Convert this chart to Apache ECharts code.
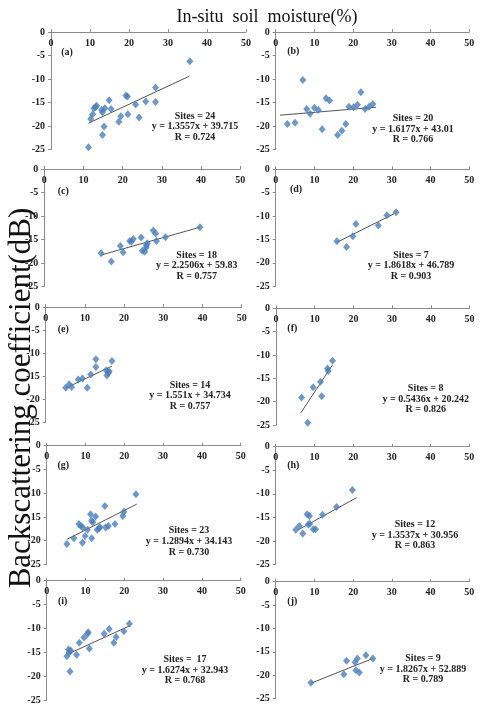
<!DOCTYPE html>
<html>
<head>
<meta charset="utf-8">
<script src="https://cdn.jsdelivr.net/npm/echarts@6/dist/echarts.min.js"></script>
<style>html,body{margin:0;padding:0;background:#fff}#c{width:480px;height:710px}</style>
</head>
<body>
<div id="c"></div>
<script>
// ---- data ----
const xTicks = [0, 10, 20, 30, 40, 50];
const yTicks = [0, -5, -10, -15, -20, -25];
const panelLabels = ['(a)','(b)','(c)','(d)','(e)','(f)','(g)','(h)','(i)','(j)'];
const sitesText = ['Sites = 24','Sites = 20','Sites = 18','Sites = 7','Sites = 14','Sites = 8','Sites = 23','Sites = 12','Sites =  17','Sites = 9'];
const eqText = ['y = 1.3557x + 39.715','y = 1.6177x + 43.01','y = 2.2506x + 59.83','y = 1.8618x + 46.789','y = 1.551x + 34.734','y = 0.5436x + 20.242','y = 1.2894x + 34.143','y = 1.3537x + 30.956','y = 1.6274x + 32.943','y = 1.8267x + 52.889'];
const rText = ['R = 0.724','R = 0.766','R = 0.757','R = 0.903','R = 0.757','R = 0.826','R = 0.730','R = 0.863','R = 0.768','R = 0.789'];

const ptsA = [[35.6,-6.2],[26.8,-11.8],[26.8,-14.9],[24.3,-14.8],[21.7,-15.4],[22.6,-18.2],[19.2,-13.5],[19.6,-13.7],[19.7,-17.5],[17.9,-17.9],[17.4,-19.1],[14.9,-14.5],[15.4,-16.4],[13.8,-16.2],[13.0,-16.6],[13.2,-17.1],[13.6,-20.1],[13.2,-21.9],[11.7,-15.7],[11.0,-16.2],[10.7,-17.5],[10.2,-18.5],[9.6,-24.5],[11.4,-16.0]];
const ptsB = [[7.0,-10.2],[3.0,-19.6],[5.0,-19.3],[8.0,-16.4],[8.9,-17.4],[10.0,-16.1],[11.0,-16.6],[12.0,-20.7],[13.0,-14.1],[13.9,-14.6],[16.0,-21.9],[17.1,-21.0],[18.1,-19.6],[18.9,-15.9],[20.1,-16.0],[21.1,-15.5],[22.0,-12.8],[23.1,-16.4],[24.1,-15.9],[25.1,-15.3]];
const ptsC = [[39.7,-12.4],[14.5,-17.9],[17.1,-19.7],[19.4,-16.4],[20.1,-17.7],[22.2,-15.5],[22.7,-14.9],[21.8,-15.3],[24.7,-14.6],[25.0,-17.4],[25.6,-17.6],[26.0,-16.7],[26.3,-15.8],[26.0,-16.2],[27.8,-13.1],[28.4,-13.7],[28.6,-15.3],[30.9,-14.5]];
const ptsD = [[15.8,-15.4],[18.3,-16.6],[19.9,-14.3],[20.7,-11.7],[26.5,-12.0],[28.7,-9.8],[31.1,-9.2]];
const ptsE = [[5.1,-17.5],[6.0,-16.7],[6.6,-17.3],[8.3,-15.7],[9.4,-15.5],[10.6,-17.5],[11.5,-14.6],[12.8,-11.3],[12.8,-13.0],[15.4,-13.7],[15.6,-14.8],[16.0,-14.3],[16.2,-13.9],[16.9,-11.7]];
const ptsF = [[6.6,-19.1],[9.6,-16.9],[11.5,-15.7],[11.8,-18.8],[13.3,-12.9],[13.5,-13.4],[14.6,-11.2],[8.2,-24.5]];
const ptsG = [[5.2,-20.7],[7.0,-19.5],[8.3,-16.5],[8.8,-16.9],[9.3,-17.2],[9.2,-20.4],[9.9,-19.0],[10.5,-17.7],[11.3,-14.4],[11.6,-15.8],[11.9,-16.1],[11.6,-19.5],[12.6,-14.9],[13.0,-17.7],[13.5,-17.4],[13.7,-17.1],[15.0,-12.7],[15.2,-17.2],[15.9,-16.9],[17.6,-16.5],[19.6,-14.8],[19.9,-13.9],[23.0,-10.2]];
const ptsH = [[5.2,-17.6],[6.1,-16.8],[7.0,-18.4],[8.1,-14.3],[8.7,-14.7],[8.4,-16.5],[8.8,-16.3],[9.7,-17.5],[10.3,-17.5],[12.1,-14.4],[15.7,-12.8],[19.8,-9.2]];
const ptsI = [[5.2,-15.8],[5.6,-14.4],[5.8,-15.0],[6.2,-14.6],[6.0,-19.0],[7.7,-15.5],[8.4,-13.0],[9.6,-11.9],[10.5,-11.1],[10.7,-10.8],[11.0,-14.2],[14.8,-11.1],[16.1,-10.1],[17.3,-13.0],[17.9,-11.8],[19.9,-10.6],[21.3,-9.0]];
const ptsJ = [[9.1,-21.6],[17.6,-19.8],[18.3,-16.9],[20.5,-17.2],[21.1,-16.4],[20.7,-18.9],[21.6,-19.4],[23.3,-15.7],[25.1,-16.4]];

const trendA = [[9.6,-19.4],[35.5,-9.4]];
const trendB = [[1.1,-17.7],[25.9,-16.0]];
const trendC = [[14.5,-18.3],[39.7,-12.4]];
const trendD = [[15.8,-15.6],[30.6,-9.5]];
const trendE = [[5.2,-17.5],[16.9,-12.8]];
const trendF = [[6.4,-22.4],[14.6,-12.1]];
const trendG = [[5.2,-19.7],[23.2,-12.3]];
const trendH = [[5.6,-17.7],[20.9,-10.8]];
const trendI = [[5.6,-15.3],[21.5,-9.4]];
const trendJ = [[9.1,-21.7],[25.1,-16.4]];

const allPts = [ptsA,ptsB,ptsC,ptsD,ptsE,ptsF,ptsG,ptsH,ptsI,ptsJ];
const allTrends = [trendA,trendB,trendC,trendD,trendE,trendF,trendG,trendH,trendI,trendJ];

// ---- layout ----
const grids = [
  {left:51, top:32, width:195, height:117.5},
  {left:275.7, top:32, width:193.6, height:117.5},
  {left:44.3, top:169, width:196, height:117.5},
  {left:275.7, top:169.3, width:193.6, height:117},
  {left:45.7, top:307, width:196, height:115.5},
  {left:276, top:308.3, width:193.5, height:116.8},
  {left:46.7, top:445.7, width:194, height:118.8},
  {left:275.7, top:446.7, width:193.6, height:118},
  {left:46.7, top:580.7, width:194, height:119.5},
  {left:275.7, top:581.7, width:193.6, height:117}
];
const annPos = [[195,116],[413,118.3],[196.7,255],[411,255],[190,385],[425.7,388.3],[189,530.7],[415,524.3],[185,659.3],[423,658.3]];
const lblPos = [[67,52],[293.3,51.7],[63.3,191.7],[296,189.3],[63.3,329.3],[292.3,328.3],[63.3,465.7],[293.3,465.7],[62.7,601.7],[292.3,601.7]];

const SERIF = '"Liberation Serif","Times New Roman",serif';
const axisGray = '#8c8c8c';
const txtColor = '#222';

const option = {
  animation: false,
  backgroundColor: '#fff',
  grid: grids.map(g => Object.assign({}, g)),
  xAxis: grids.map((g, i) => ({
    gridIndex: i, type: 'value', min: xTicks[0], max: xTicks[xTicks.length-1], interval: 10,
    position: 'top',
    axisLine: {onZero: false, lineStyle: {color: axisGray, width: 1}},
    axisTick: {show: true, length: 3, lineStyle: {color: axisGray}},
    splitLine: {show: false},
    axisLabel: {inside: true, margin: 6, fontFamily: SERIF, fontWeight: 'bold', fontSize: 10, color: txtColor}
  })),
  yAxis: grids.map((g, i) => ({
    gridIndex: i, type: 'value', min: yTicks[yTicks.length-1], max: yTicks[0], interval: 5,
    axisLine: {show: true, onZero: false, lineStyle: {color: axisGray, width: 1}},
    axisTick: {show: true, length: 3, lineStyle: {color: axisGray}},
    splitLine: {show: false},
    axisLabel: {margin: 6, fontFamily: SERIF, fontWeight: 'bold', fontSize: 10, color: txtColor}
  })),
  series: [],
  graphic: []
};

allPts.forEach((pts, i) => {
  option.series.push({
    type: 'line', xAxisIndex: i, yAxisIndex: i, data: allTrends[i],
    symbol: 'none', lineStyle: {color: '#555', width: 1}, z: 2
  });
  option.series.push({
    type: 'scatter', xAxisIndex: i, yAxisIndex: i, data: pts,
    symbol: 'diamond', symbolSize: [7, 8], itemStyle: {color: '#4a7ebb'}, z: 3
  });
});

option.graphic.push({
  type: 'text', x: 267, y: 17,
  style: {text: 'In-situ  soil  moisture(%)', font: '18px ' + SERIF, fill: '#111', align: 'center', verticalAlign: 'middle'}
});
option.graphic.push({
  type: 'text', x: 22, y: 398, rotation: Math.PI / 2,
  style: {text: 'Backscattering coefficient(dB)', font: '31px ' + SERIF, fill: '#111', align: 'center', verticalAlign: 'middle'}
});
annPos.forEach((p, i) => {
  option.graphic.push({
    type: 'text', x: p[0], y: p[1] + 10.8,
    style: {text: sitesText[i] + '\n' + eqText[i] + '\n' + rText[i], font: 'bold 10px ' + SERIF, lineHeight: 10.8, fill: txtColor, align: 'center', verticalAlign: 'middle'}
  });
  option.graphic.push({
    type: 'text', x: lblPos[i][0], y: lblPos[i][1],
    style: {text: panelLabels[i], font: 'bold 10px ' + SERIF, fill: txtColor, align: 'center', verticalAlign: 'middle'}
  });
});

const chart = echarts.init(document.getElementById('c'), null, {renderer: 'canvas'});
chart.setOption(option);
</script>
</body>
</html>
